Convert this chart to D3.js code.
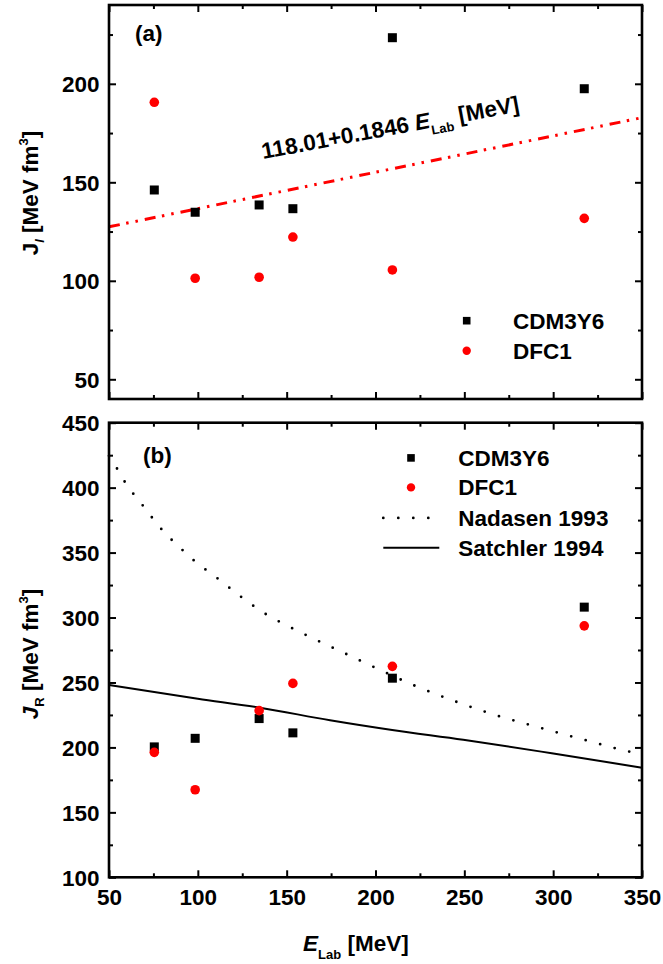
<!DOCTYPE html>
<html>
<head>
<meta charset="utf-8">
<script src="https://cdn.jsdelivr.net/npm/d3@7"></script>
<style>
html,body{margin:0;padding:0;background:#fff;}
svg{display:block;}
text{font-family:"Liberation Sans",Arial,sans-serif;font-weight:bold;fill:#000;}
</style>
</head>
<body>
<svg id="chart" width="663" height="964"></svg>
<script>
// ---------- data ----------
const energies = [75.5, 98.5, 134.5, 153.5, 209.5, 317.5];
const jiCDM3Y6 = [146.1, 134.8, 138.5, 136.6, 223.4, 197.5];
const jiDFC1   = [190.6, 101.3, 101.8, 122.2, 105.5, 131.7];
const jrCDM3Y6 = [200.4, 207.0, 222.2, 211.2, 253.3, 308.0];
const jrDFC1   = [196.2, 167.4, 228.3, 249.3, 262.4, 293.6];

const fitE = [50, 350];
const fitJ = [127.4, 182.8];

const nadasenE = [50, 54.3, 59.2, 69.3, 79.3, 91.5, 97.5, 110.9, 124.2, 138.1, 152.8, 167.8, 182.8, 197.8, 220.3, 242.8, 266.6, 290.6, 314.1, 338.5, 350];
const nadasenJ = [424.5, 415.2, 403.8, 385.8, 368.4, 351.8, 344.3, 330.4, 316.1, 302.8, 292.0, 282.0, 272.4, 262.7, 248.6, 236.5, 225.3, 215.9, 207.1, 198.2, 194.6];

const satchlerE = [50, 100, 135, 174.4, 209.4, 249.4, 299.2, 350];
const satchlerJ = [248.0, 237.5, 230.6, 220.9, 213.4, 205.9, 195.5, 184.4];

const xTicksMajor = [50, 100, 150, 200, 250, 300, 350];
const xTicksMinor = [75, 125, 175, 225, 275, 325];
const yTopTicksMajor = [50, 100, 150, 200];
const yTopTicksMinor = [75, 125, 175, 225];
const yBotTicksMajor = [100, 150, 200, 250, 300, 350, 400, 450];
const yBotTicksMinor = [125, 175, 225, 275, 325, 375, 425];

// ---------- layout ----------
const svg = d3.select("#chart");
const xL = 109, xR = 642;
const topP = {y0: 5, y1: 399};
const botP = {y0: 422.7, y1: 877.3};
const FS = 22.5;

const x = d3.scaleLinear().domain([50, 350]).range([xL, xR]);
const yT = d3.scaleLinear().domain([40, 240]).range([topP.y1, topP.y0]);
const yB = d3.scaleLinear().domain([100, 450]).range([botP.y1, botP.y0]);

function frame(p, y, majorY, minorY, showX) {
  const g = svg.append("g");
  const H = p.y1 - p.y0;
  const W = xR - xL;
  // bottom
  const ab = g.append("g").attr("transform", `translate(0,${p.y1})`)
    .call(d3.axisBottom(x).tickValues(xTicksMajor).tickSize(-7).tickPadding(12)
      .tickFormat(showX ? d3.format("d") : () => ""));
  g.append("g").attr("transform", `translate(0,${p.y1})`)
    .call(d3.axisBottom(x).tickValues(xTicksMinor).tickSize(-4).tickFormat(() => ""));
  // top
  g.append("g").attr("transform", `translate(0,${p.y0})`)
    .call(d3.axisTop(x).tickValues(xTicksMajor).tickSize(-7).tickFormat(() => ""));
  g.append("g").attr("transform", `translate(0,${p.y0})`)
    .call(d3.axisTop(x).tickValues(xTicksMinor).tickSize(-4).tickFormat(() => ""));
  // left
  g.append("g").attr("transform", `translate(${xL},0)`)
    .call(d3.axisLeft(y).tickValues(majorY).tickSize(-7).tickPadding(9.5).tickFormat(d3.format("d")));
  g.append("g").attr("transform", `translate(${xL},0)`)
    .call(d3.axisLeft(y).tickValues(minorY).tickSize(-4).tickFormat(() => ""));
  // right
  g.append("g").attr("transform", `translate(${xR},0)`)
    .call(d3.axisRight(y).tickValues(majorY).tickSize(-7).tickFormat(() => ""));
  g.append("g").attr("transform", `translate(${xR},0)`)
    .call(d3.axisRight(y).tickValues(minorY).tickSize(-4).tickFormat(() => ""));
  g.selectAll(".domain").remove();
  g.selectAll(".tick line").attr("stroke", "#000").attr("stroke-width", 2);
  g.selectAll(".tick text").attr("font-size", FS).attr("font-family", '"Liberation Sans",Arial,sans-serif')
    .attr("font-weight", "bold").attr("fill", "#000");
  g.selectAll("g.tick text").filter(function(){ return this.getAttribute("dy") === "0.32em"; }).attr("dy", "0.36em");
  g.append("rect").attr("x", xL).attr("y", p.y0).attr("width", W).attr("height", H)
    .attr("fill", "none").attr("stroke", "#000").attr("stroke-width", 2.6);
  return g;
}

// ---------- panel (a) ----------
const ga = svg.append("g");
ga.append("path")
  .datum(fitE.map((e, i) => [e, fitJ[i]]))
  .attr("d", d3.line().x(d => x(d[0])).y(d => yT(d[1])))
  .attr("fill", "none").attr("stroke", "#ff0000").attr("stroke-width", 3)
  .attr("stroke-dasharray", "11,6.5,2.5,7,2.5,7");

ga.selectAll("rect.cdm").data(energies).join("rect")
  .attr("x", (d) => x(d) - 4.5).attr("y", (d, i) => yT(jiCDM3Y6[i]) - 4.5)
  .attr("width", 9).attr("height", 9).attr("fill", "#000");
ga.selectAll("circle.dfc").data(energies).join("circle")
  .attr("cx", d => x(d)).attr("cy", (d, i) => yT(jiDFC1[i])).attr("r", 4.8).attr("fill", "#ff0000");

frame(topP, yT, yTopTicksMajor, yTopTicksMinor, false);

// annotation
const ann = svg.append("text").attr("transform", "translate(263,159) rotate(-10.5)").attr("font-size", FS);
ann.append("tspan").text("118.01+0.1846 ");
ann.append("tspan").attr("font-style", "italic").text("E");
ann.append("tspan").attr("font-size", 13).attr("dy", 7).text("Lab");
ann.append("tspan").attr("dy", -7).text(" [MeV]");

svg.append("text").attr("x", 135).attr("y", 41).attr("font-size", FS).text("(a)");

// legend (a)
svg.append("rect").attr("x", 466.7 - 3.8).attr("y", 320.7 - 3.8).attr("width", 7.6).attr("height", 7.6).attr("fill", "#000");
svg.append("circle").attr("cx", 466.7).attr("cy", 350.7).attr("r", 4.2).attr("fill", "#ff0000");
svg.append("text").attr("x", 513).attr("y", 328.8).attr("font-size", FS).text("CDM3Y6");
svg.append("text").attr("x", 513).attr("y", 358.8).attr("font-size", FS).text("DFC1");

// y label (a)
const yla = svg.append("text").attr("transform", `translate(37.5,193) rotate(-90)`)
  .attr("text-anchor", "middle").attr("font-size", FS);
yla.append("tspan").text("J");
yla.append("tspan").attr("font-size", 13).attr("font-style", "italic").attr("dy", 6).text("I");
yla.append("tspan").attr("dy", -6).text(" [MeV fm");
yla.append("tspan").attr("font-size", 13).attr("dy", -10).text("3");
yla.append("tspan").attr("dy", 10).text("]");

// ---------- panel (b) ----------
const gb = svg.append("g");
const lineGen = d3.line().x(d => x(d[0])).y(d => yB(d[1])).curve(d3.curveMonotoneX);
gb.append("path")
  .datum(nadasenE.map((e, i) => [e, nadasenJ[i]]))
  .attr("d", lineGen)
  .attr("fill", "none").attr("stroke", "#000").attr("stroke-width", 2.8)
  .attr("stroke-linecap", "round").attr("stroke-dasharray", "0,15");
gb.append("path")
  .datum(satchlerE.map((e, i) => [e, satchlerJ[i]]))
  .attr("d", lineGen)
  .attr("fill", "none").attr("stroke", "#000").attr("stroke-width", 2);

gb.selectAll("rect.cdm").data(energies).join("rect")
  .attr("x", d => x(d) - 4.5).attr("y", (d, i) => yB(jrCDM3Y6[i]) - 4.5)
  .attr("width", 9).attr("height", 9).attr("fill", "#000");
gb.selectAll("circle.dfc").data(energies).join("circle")
  .attr("cx", d => x(d)).attr("cy", (d, i) => yB(jrDFC1[i])).attr("r", 4.8).attr("fill", "#ff0000");

frame(botP, yB, yBotTicksMajor, yBotTicksMinor, true);

svg.append("text").attr("x", 143).attr("y", 463).attr("font-size", FS).text("(b)");

// legend (b)
svg.append("rect").attr("x", 411 - 3.8).attr("y", 457.9 - 3.8).attr("width", 7.6).attr("height", 7.6).attr("fill", "#000");
svg.append("circle").attr("cx", 411).attr("cy", 487.4).attr("r", 4.2).attr("fill", "#ff0000");
svg.append("line").attr("x1", 383.3).attr("x2", 431).attr("y1", 517.9).attr("y2", 517.9)
  .attr("stroke", "#000").attr("stroke-width", 2.8).attr("stroke-linecap", "round").attr("stroke-dasharray", "0,15");
svg.append("line").attr("x1", 383.3).attr("x2", 439.3).attr("y1", 547.8).attr("y2", 547.8)
  .attr("stroke", "#000").attr("stroke-width", 2);
const legB = ["CDM3Y6", "DFC1", "Nadasen 1993", "Satchler 1994"];
const legBy = [457.9, 487.4, 517.9, 547.8];
legB.forEach((t, i) => svg.append("text").attr("x", 458.3).attr("y", legBy[i] + 8).attr("font-size", FS).text(t));

// y label (b)
const ylb = svg.append("text").attr("transform", `translate(37.5,654) rotate(-90)`)
  .attr("text-anchor", "middle").attr("font-size", FS);
ylb.append("tspan").attr("font-style", "italic").text("J");
ylb.append("tspan").attr("font-size", 13).attr("dy", 6).text("R");
ylb.append("tspan").attr("dy", -6).text(" [MeV fm");
ylb.append("tspan").attr("font-size", 13).attr("dy", -10).text("3");
ylb.append("tspan").attr("dy", 10).text("]");

// x label
const xl = svg.append("text").attr("x", 303).attr("y", 951).attr("font-size", FS);
xl.append("tspan").attr("font-style", "italic").text("E");
xl.append("tspan").attr("font-size", 13).attr("dy", 8).text("Lab");
xl.append("tspan").attr("dy", -8).text(" [MeV]");
</script>
</body>
</html>
